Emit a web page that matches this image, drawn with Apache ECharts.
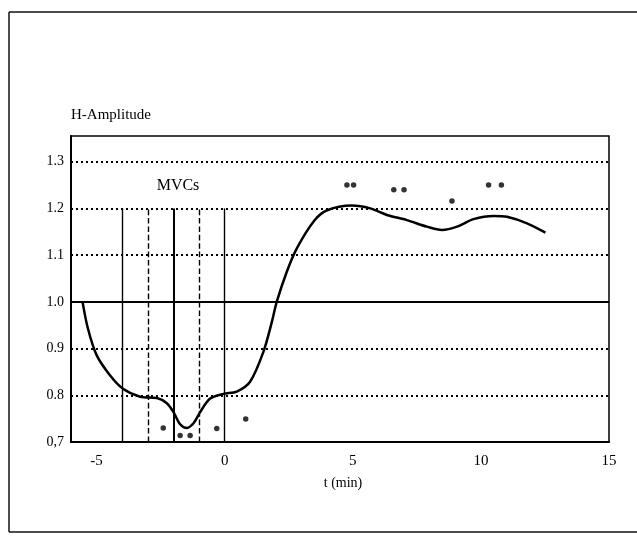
<!DOCTYPE html>
<html>
<head>
<meta charset="utf-8">
<script src="https://cdn.jsdelivr.net/npm/echarts@6/dist/echarts.min.js"></script>
<style>html,body{margin:0;padding:0;background:#fff}#c{width:637px;height:539px}</style>
</head>
<body>
<div id="c"></div>
<script>
// ---- data ----
var curveT = [-5.55, -5.34, -5.0, -4.48, -3.97, -3.3, -2.65, -2.26, -2.0, -1.74, -1.48, -1.22, -0.96, -0.57, -0.05, 0.47, 0.99, 1.51, 1.84, 2.03, 2.42, 2.81, 3.5, 4.0, 4.96, 5.68, 6.33, 7.11, 7.89, 8.48, 9.07, 9.71, 10.5, 11.02, 11.8, 12.52];
var curveH = [1.0, 0.943, 0.886, 0.843, 0.814, 0.797, 0.794, 0.783, 0.764, 0.738, 0.73, 0.74, 0.764, 0.793, 0.803, 0.808, 0.829, 0.893, 0.957, 1.0, 1.064, 1.114, 1.174, 1.196, 1.206, 1.2, 1.186, 1.175, 1.161, 1.154, 1.161, 1.177, 1.184, 1.182, 1.168, 1.148];
var starT = [-2.4, -1.74, -1.35, -0.31, 0.82, 4.77, 5.03, 6.6, 7.0, 8.87, 10.3, 10.8];
var starH = [0.73, 0.714, 0.714, 0.729, 0.749, 1.25, 1.25, 1.24, 1.24, 1.216, 1.25, 1.25];
var mvcT = [-4, -3, -2, -1, 0];
var mvcStyle = ['solid', 'dashed', 'solid', 'dashed', 'solid'];
var xTickValues = [-5, 0, 5, 10, 15];
var xTickLabels = ['-5', '0', '5', '10', '15'];
var yTickValues = [0.7, 0.8, 0.9, 1.0, 1.1, 1.2, 1.3];
var yTickLabels = ['0,7', '0.8', '0.9', '1.0', '1.1', '1.2', '1.3'];
var dottedY = [0.8, 0.9, 1.1, 1.2, 1.3];
var solidY = [1.0];
var mvcTop = 1.2, mvcBottom = 0.7;

// ---- chart ----
var FONT = 'Liberation Serif';
var chart = echarts.init(document.getElementById('c'), null, {renderer: 'canvas'});

function pairs(a, b) { return a.map(function (v, i) { return [v, b[i]]; }); }
function lookup(vals, labels, v) {
  for (var i = 0; i < vals.length; i++) if (Math.abs(vals[i] - v) < 1e-6) return labels[i];
  return '';
}

var markData = [];
dottedY.forEach(function (y) {
  markData.push({yAxis: y, lineStyle: {type: [2, 3], width: 1.8, color: '#000'}});
});
solidY.forEach(function (y) {
  markData.push({yAxis: y, lineStyle: {type: 'solid', width: 2, color: '#000'}});
});
mvcT.forEach(function (t, i) {
  markData.push([
    {coord: [t, mvcBottom], lineStyle: {type: mvcStyle[i], width: i === 2 ? 2 : 1.4, color: '#000'}},
    {coord: [t, mvcTop]}
  ]);
});

chart.setOption({
  animation: false,
  backgroundColor: '#fff',
  grid: {left: 71, top: 136, right: 28, bottom: 97, show: true, borderColor: '#000', borderWidth: 1.5, backgroundColor: 'transparent'},
  xAxis: {
    type: 'value', min: -6, max: 15,
    axisLine: {show: true, onZero: false, lineStyle: {color: '#000', width: 2}},
    axisTick: {show: false},
    splitLine: {show: false},
    axisLabel: {customValues: xTickValues, formatter: function (v) { return lookup(xTickValues, xTickLabels, v); },
      color: '#000', fontFamily: FONT, fontSize: 15, margin: 12}
  },
  yAxis: {
    type: 'value', min: 0.7, max: 1.355,
    axisLine: {show: true, onZero: false, lineStyle: {color: '#000', width: 2}},
    axisTick: {show: false},
    splitLine: {show: false},
    axisLabel: {customValues: yTickValues, formatter: function (v) { return lookup(yTickValues, yTickLabels, v); },
      color: '#000', fontFamily: FONT, fontSize: 14, margin: 7}
  },
  graphic: [
    {type: 'line', shape: {x1: 9, y1: 12, x2: 637, y2: 12}, style: {stroke: '#111', lineWidth: 1.5}},
    {type: 'line', shape: {x1: 9, y1: 12, x2: 9, y2: 532}, style: {stroke: '#111', lineWidth: 1.5}},
    {type: 'line', shape: {x1: 9, y1: 532, x2: 637, y2: 532}, style: {stroke: '#111', lineWidth: 1.5}},
    {type: 'text', left: 71, top: 108, style: {text: 'H-Amplitude', font: '15px "Liberation Serif"', fill: '#000'}},
    {type: 'text', x: 178, y: 186, style: {text: 'MVCs', font: '16px "Liberation Serif"', fill: '#000', textAlign: 'center', textVerticalAlign: 'middle'}},
    {type: 'text', x: 343, y: 483, style: {text: 't (min)', font: '14px "Liberation Serif"', fill: '#000', textAlign: 'center', textVerticalAlign: 'middle'}}
  ],
  series: [
    {
      type: 'line', data: [], silent: true,
      markLine: {silent: true, symbol: 'none', label: {show: false}, data: markData}
    },
    {
      type: 'line', data: pairs(curveT, curveH), smooth: 0.3, showSymbol: false,
      lineStyle: {color: '#000', width: 2.5}
    },
    {
      type: 'scatter', data: pairs(starT, starH), symbol: 'circle', symbolSize: 5.5,
      itemStyle: {color: '#000'}
    }
  ]
});
</script>
</body>
</html>
